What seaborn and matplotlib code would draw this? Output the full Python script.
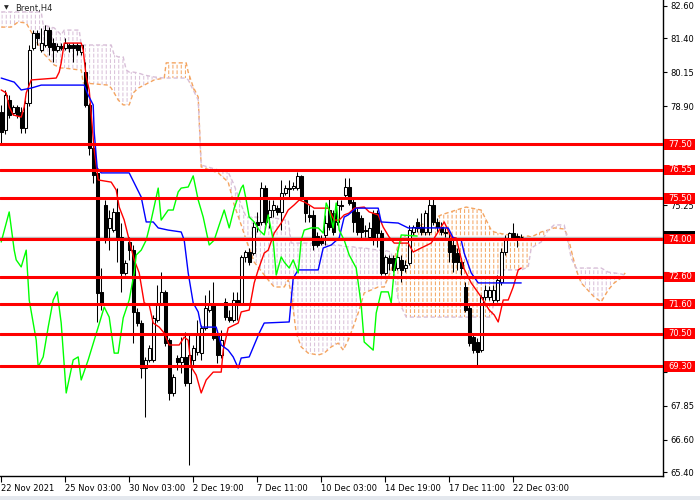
import numpy as np
import matplotlib
matplotlib.use("Agg")
import matplotlib.pyplot as plt
import matplotlib.transforms as mtransforms
from matplotlib.patches import Rectangle
import seaborn as sns

# Brent H4 candles (bar index = position)
opens = [78.69, 78.02, 79.13, 78.65, 78.87, 78.69, 78.10, 79.02, 81.05, 81.60,
         80.97, 81.16, 81.71, 81.23, 80.97, 81.12, 81.05, 81.16, 81.16, 81.16,
         80.90, 80.16, 78.95, 77.36, 76.44, 72.05, 75.26, 74.41, 74.33, 75.00,
         74.07, 72.75, 73.89, 73.59, 71.31, 70.90, 69.24, 69.54, 69.54, 71.01,
         71.64, 72.05, 70.27, 68.32, 69.61, 69.46, 69.65, 68.69, 69.54, 69.83,
         69.79, 70.72, 71.38, 71.57, 70.53, 69.72, 71.68, 71.12, 71.01, 71.75,
         71.64, 73.34, 73.52, 73.48, 74.63, 74.63, 75.88, 74.81, 75.07, 75.14,
         75.00, 75.70, 75.88, 75.88, 75.88, 76.33, 75.44, 74.89, 74.89, 74.11,
         74.04, 74.15, 75.07, 74.96, 74.63, 75.26, 75.62, 75.92, 75.37, 75.00,
         74.78, 74.33, 74.07, 74.96, 74.96, 74.22, 72.75, 73.30, 73.30, 72.93,
         73.23, 72.93, 73.12, 74.26, 74.63, 74.44, 74.26, 74.26, 75.26, 74.63,
         74.44, 74.26, 74.04, 73.78, 73.48, 73.15, 72.23, 71.45, 70.38, 70.20,
         69.90, 71.86, 71.86, 71.75, 71.75, 72.41, 73.52, 74.04, 74.22, 74.11,
         74.07]
highs = [78.95, 79.50, 79.31, 78.95, 78.95, 78.87, 79.13, 81.16, 81.71, 81.71,
         81.79, 81.90, 81.82, 81.42, 81.23, 81.23, 81.42, 81.23, 81.23, 81.23,
         81.23, 80.53, 79.02, 77.47, 76.55, 72.93, 75.44, 75.07, 75.14, 75.88,
         74.59, 73.23, 74.07, 73.78, 71.45, 71.01, 69.65, 70.09, 71.20, 72.30,
         72.78, 72.12, 70.35, 69.02, 69.72, 70.38, 70.57, 70.46, 70.09, 71.01,
         70.83, 71.93, 72.12, 72.41, 70.64, 70.64, 71.82, 71.38, 72.05, 72.05,
         73.41, 73.59, 73.67, 74.63, 75.00, 76.10, 75.99, 75.44, 75.44, 75.26,
         76.18, 75.99, 76.18, 76.10, 76.47, 76.36, 75.51, 75.26, 75.07, 74.26,
         74.15, 74.89, 75.55, 75.07, 75.44, 75.44, 76.25, 76.25, 75.51, 75.14,
         74.89, 74.52, 74.63, 75.07, 75.07, 74.33, 73.41, 73.41, 73.41, 73.59,
         73.41, 73.23, 74.52, 74.52, 74.78, 74.96, 75.07, 75.51, 75.51, 74.78,
         74.63, 74.41, 74.26, 73.96, 73.67, 73.30, 72.41, 71.57, 70.53, 70.35,
         71.93, 72.30, 72.27, 72.30, 72.67, 73.67, 74.15, 74.26, 74.59, 74.22,
         74.19]
lows = [77.54, 77.88, 78.47, 78.58, 78.47, 77.91, 77.91, 78.91, 80.97, 81.16,
        80.90, 81.09, 80.79, 80.53, 80.90, 80.97, 80.97, 80.90, 80.53, 80.79,
        80.79, 78.87, 77.10, 76.07, 70.94, 71.38, 73.85, 73.59, 74.26, 73.15,
        72.05, 72.67, 73.23, 70.16, 70.79, 68.87, 67.43, 69.46, 69.46, 70.94,
        71.57, 70.05, 68.06, 68.21, 69.17, 69.06, 68.58, 65.66, 69.35, 69.72,
        69.54, 70.64, 71.31, 70.27, 69.43, 69.61, 71.01, 70.94, 70.94, 71.01,
        71.57, 73.15, 73.04, 73.41, 74.26, 74.52, 74.52, 74.41, 74.81, 74.89,
        74.33, 75.62, 75.55, 75.81, 75.81, 75.44, 74.63, 74.63, 73.59, 73.71,
        73.78, 73.78, 74.33, 74.15, 74.52, 75.07, 75.55, 75.26, 74.26, 74.15,
        73.96, 74.07, 73.96, 73.78, 73.71, 72.67, 72.67, 72.86, 72.78, 72.86,
        72.41, 72.78, 73.04, 74.15, 74.26, 74.15, 74.15, 74.15, 74.52, 74.26,
        74.15, 74.07, 73.15, 72.78, 72.86, 72.67, 71.31, 70.05, 69.79, 69.35,
        69.83, 71.75, 71.75, 71.64, 71.68, 72.30, 73.41, 73.96, 73.96, 73.71,
        73.96]
closes = [77.95, 79.31, 78.58, 78.87, 78.58, 78.10, 79.02, 80.97, 81.60, 81.42,
          81.23, 81.71, 81.09, 80.97, 81.12, 81.05, 81.23, 81.05, 81.05, 80.97,
          81.16, 78.95, 77.36, 76.36, 72.01, 71.64, 74.07, 74.78, 75.00, 74.07,
          72.75, 73.12, 73.59, 71.31, 70.90, 69.24, 69.54, 69.98, 71.09, 71.64,
          72.05, 70.16, 68.32, 68.91, 69.46, 69.65, 68.69, 69.72, 69.98, 70.46,
          70.72, 71.45, 71.64, 70.35, 69.72, 70.27, 71.12, 71.01, 71.75, 71.64,
          73.34, 73.52, 73.15, 74.44, 74.52, 75.88, 74.63, 75.07, 75.26, 75.00,
          75.70, 75.88, 75.85, 75.96, 76.33, 75.55, 74.96, 74.81, 73.78, 73.78,
          73.85, 74.59, 74.44, 74.26, 75.26, 75.22, 75.92, 75.33, 74.63, 74.26,
          74.26, 74.30, 74.41, 73.96, 74.22, 72.75, 73.34, 73.12, 72.86, 73.34,
          72.86, 73.04, 74.33, 74.44, 74.41, 74.26, 74.96, 75.26, 74.63, 74.44,
          74.26, 74.22, 73.52, 73.15, 73.15, 72.93, 71.38, 70.16, 69.90, 69.83,
          71.86, 72.12, 72.12, 72.12, 72.49, 73.52, 74.04, 74.22, 74.04, 74.04,
          74.06]

# Ichimoku lines (bar index, price) at the visible turning points
tenkan_i = [0, 1.25, 2, 3, 5, 5.75, 6.25, 7.5, 13.75, 14.5, 15, 15.75, 20, 20.5,
            21.25, 22, 23.25, 24.25, 27.5, 28.75, 29.5, 30.75, 32, 33.25, 34.5,
            35.75, 37, 38, 39.5, 40.75, 42, 44.5, 45.75, 46.75, 47.5, 48.75, 50,
            51.25, 53, 55, 55.5, 56.75, 59.25, 60, 62, 63.25, 64.25, 65.75, 66.75,
            68.25, 70, 71.75, 73.25, 74.5, 75.75, 77, 78.25, 81.75, 83.25, 84.5,
            85.75, 87, 88.25, 90.75, 92, 94.25, 95.5, 97, 98.25, 101.75, 103, 105,
            107.5, 109.5, 110.75, 112.5, 113.75, 115.5, 117.5, 120, 122, 123.25,
            124.25, 125.5, 126.75, 128, 129.25, 130]
tenkan_p = [79.50, 79.39, 78.87, 78.58, 78.50, 78.87, 79.39, 79.87, 79.94, 80.16,
            80.50, 81.23, 81.23, 80.97, 79.98, 79.50, 77.28, 76.18, 76.10, 75.81,
            75.18, 74.70, 73.96, 73.23, 72.75, 71.64, 71.57, 70.90, 70.75, 70.53,
            70.09, 70.09, 70.38, 70.27, 69.28, 68.98, 68.32, 68.80, 69.09, 69.09,
            69.90, 70.72, 70.90, 71.31, 71.38, 72.38, 72.86, 73.48, 73.59, 74.22,
            74.59, 75.07, 75.26, 75.44, 75.37, 75.26, 75.14, 75.14, 74.70, 74.70,
            74.89, 74.96, 75.14, 75.18, 75.00, 74.89, 74.44, 74.07, 73.85, 73.85,
            73.52, 73.67, 73.85, 74.33, 74.63, 74.07, 74.04, 72.97, 72.38, 71.86,
            71.38, 71.20, 70.94, 71.75, 71.75, 72.23, 72.86, 72.93]

kijun_i = [0, 3.25, 5, 7.5, 10, 20.75, 21.75, 23, 23.25, 24, 25, 32, 33.25, 35,
           36.25, 38, 39.25, 41.75, 45, 45.75, 46.75, 48, 49.25, 50, 53.75, 55,
           56.75, 58, 59.25, 60, 62, 64.5, 65.75, 72, 73, 74.25, 79.25, 80.5,
           82.5, 84.5, 85.75, 86.75, 88.75, 94.25, 95, 99.25, 101.75, 111.75,
           113, 115, 115.75, 117.5, 119.25, 130]
kijun_p = [79.94, 79.79, 79.50, 79.57, 79.68, 79.68, 79.31, 78.95, 77.95, 76.62,
           76.44, 76.44, 76.07, 75.55, 74.63, 74.63, 74.41, 74.33, 74.26, 73.96,
           72.75, 71.64, 71.31, 70.75, 70.75, 70.09, 69.90, 69.65, 69.24, 69.61,
           69.65, 70.53, 70.90, 70.94, 72.56, 72.86, 72.86, 73.67, 73.78, 74.04,
           74.81, 74.89, 75.14, 75.14, 74.63, 74.59, 74.41, 74.41, 74.04, 73.96,
           73.48, 72.75, 72.38, 72.38]

chikou_i = [0, 2, 3.25, 3.75, 5, 6.25, 7, 8.75, 9.25, 10.5, 11.75, 13, 14, 15,
            16.25, 18, 19.25, 20, 21.75, 24.25, 25.75, 27, 28.25, 29.25, 30.5, 32,
            33.25, 33.75, 35, 36.25, 37.5, 39.25, 40, 41.75, 43, 44.25, 45, 46.75,
            48, 49.25, 50.5, 52, 53.25, 54.5, 55.75, 57, 58.25, 60, 60.5, 61.25,
            62, 63.25, 64.5, 65.75, 66.75, 68, 68.75, 70, 70.75, 72, 73, 74.25, 75,
            75.75, 77.5, 79.25, 80.5, 81.25, 82, 83, 83.75, 84.5, 85.75, 87, 88.75,
            90, 90.75, 93, 93.75, 95, 96.75, 97.5, 98.25, 100, 104]
chikou_p = [73.89, 75.00, 73.59, 73.23, 72.97, 73.59, 71.75, 70.27, 69.28, 69.65,
            70.75, 71.75, 72.05, 70.90, 68.32, 69.54, 69.65, 68.80, 69.54, 70.75,
            71.49, 71.12, 69.79, 69.79, 71.09, 71.75, 72.75, 73.41, 73.59, 73.96,
            74.70, 75.88, 74.70, 75.07, 75.07, 75.74, 75.88, 75.92, 76.33, 75.44,
            74.81, 73.78, 73.96, 74.52, 75.07, 74.41, 75.14, 75.88, 75.99, 75.44,
            74.81, 74.63, 74.33, 74.15, 74.89, 73.96, 72.67, 73.34, 73.15, 72.93,
            73.23, 72.75, 73.96, 74.33, 74.41, 74.41, 74.22, 75.33, 75.07, 74.41,
            75.33, 74.33, 73.96, 73.41, 72.93, 71.57, 70.20, 69.90, 71.27, 72.05,
            72.05, 71.64, 72.86, 74.15, 74.11]

cloud_i = [0, 2.5, 4.25, 6.25, 8.25, 10, 10.5, 13.25, 15, 15.75, 19.5, 20, 20.5,
           26.75, 27.5, 28.25, 29.25, 30.5, 31.25, 32, 33, 34.25, 35.75, 38.25,
           40.75, 41.25, 46.25, 46.75, 48, 49.25, 50, 54.25, 56.75, 58.25, 60,
           61.25, 63.25, 66.75, 68.25, 70.75, 71.75, 72.5, 73.75, 75, 76.75, 79.25,
           80.75, 82.5, 84.25, 85.5, 86.75, 88, 89.25, 90.75, 92.5, 94.25, 95.75,
           97.5, 99.25, 101.25, 105, 110, 113.75, 116.25, 120, 121.25, 122.5,
           123.25, 124.25, 130, 131.75, 132.5, 135, 136.75, 138.25, 140.75, 141.75,
           142.5, 143.75, 145, 148.25, 150, 151.75, 153.25, 155, 156]
span_a = [81.82, 81.82, 82.01, 81.97, 81.45, 80.97, 80.86, 80.42, 80.31, 80.31,
          80.24, 80.24, 79.76, 79.68, 79.57, 79.39, 79.13, 78.95, 78.95, 78.95,
          79.39, 79.57, 79.68, 79.87, 79.94, 80.50, 80.50, 80.16, 79.61, 79.24,
          76.66, 76.44, 76.10, 75.26, 74.52, 73.96, 73.15, 72.49, 72.23, 72.23,
          72.49, 72.01, 70.53, 70.02, 69.79, 69.72, 69.79, 70.02, 70.16, 69.90,
          70.27, 70.75, 71.27, 72.01, 72.12, 72.23, 72.23, 72.86, 73.78, 74.15,
          74.52, 74.89, 75.07, 75.18, 75.07, 74.70, 74.33, 74.26, 74.22, 74.07,
          74.11, 74.07, 74.26, 74.33, 74.41, 74.37, 74.07, 73.59, 72.86, 72.38,
          71.86, 71.68, 72.12, 72.38, 72.56, 72.75]
span_b = [82.38, 82.38, 82.38, 82.38, 82.38, 82.38, 81.90, 81.79, 81.53, 81.71,
          81.71, 81.16, 81.16, 81.16, 81.16, 80.79, 80.72, 80.72, 80.24, 80.16,
          80.16, 80.13, 80.05, 79.98, 79.94, 79.94, 79.94, 79.87, 79.50, 79.13,
          76.73, 76.55, 76.47, 75.99, 75.26, 74.81, 74.81, 74.81, 74.78, 74.70,
          74.70, 73.85, 73.85, 73.85, 73.85, 73.85, 73.82, 73.78, 73.78, 73.74,
          73.71, 73.71, 73.67, 73.67, 73.63, 73.59, 73.59, 73.52, 71.75, 71.12,
          71.12, 71.12, 71.12, 71.12, 71.12, 71.12, 71.12, 71.75, 72.86, 72.86,
          72.97, 73.67, 73.89, 74.33, 74.52, 74.52, 73.85, 73.30, 72.93, 72.93,
          72.93, 72.93, 72.78, 72.75, 72.71, 72.67]

levels = [77.50, 76.55, 75.50, 74.00, 72.60, 71.60, 70.50, 69.30]
bid_price = 74.06
ytick_vals = [82.60, 81.40, 80.15, 78.90, 77.70, 76.45, 75.25, 74.00, 72.80,
              71.55, 70.35, 69.10, 67.85, 66.60, 65.40]
xtick_pos = [0, 16, 32, 48, 64, 80, 96, 112, 128]
xtick_labels = ['22 Nov 2021', '25 Nov 03:00', '30 Nov 03:00', '2 Dec 19:00',
                '7 Dec 11:00', '10 Dec 03:00', '14 Dec 19:00', '17 Dec 11:00',
                '22 Dec 03:00']

sns.set_style("white")
plt.rcParams['font.family'] = ['DejaVu Sans']
plt.rcParams['hatch.linewidth'] = 0.72

fig = plt.figure(figsize=(7, 5), dpi=100)
ax = fig.add_axes([0, 24 / 500, 663 / 700, 476 / 500])

# cloud: dashed vertical hatch in sandybrown / thistle
ci = np.array(cloud_i)
sa = np.array(span_a)
sb = np.array(span_b)
c1 = ax.fill_between(ci, sa, sb, where=sa >= sb, interpolate=True, facecolor='none',
                     edgecolor='#F4A460', hatch='||||', linewidth=0, zorder=1)
c2 = ax.fill_between(ci, sa, sb, where=sa <= sb, interpolate=True, facecolor='none',
                     edgecolor='#D8BFD8', hatch='||||', linewidth=0, zorder=1)
with plt.rc_context({'hatch.linewidth': 1.3}):
    gaps = ax.fill_between(ci, sa, sb, facecolor='none', edgecolor='white',
                           hatch='---', linewidth=0, zorder=1.2)
for coll, hlw in ((c1, 0.72), (c2, 0.72), (gaps, 1.3)):
    if hasattr(coll, 'set_hatch_linewidth'):
        coll.set_hatch_linewidth(hlw)
ax.plot(ci, sa, color='#F4A460', lw=1, ls=(0, (3, 2)), zorder=1.5)
ax.plot(ci, sb, color='#D8BFD8', lw=1, ls=(0, (3, 2)), zorder=1.5)

# bid line
ax.axhline(bid_price + 0.03, color='#C0C0C0', lw=1, zorder=2)

# candles
x = np.arange(len(opens))
o = np.array(opens)
c = np.array(closes)
up = c >= o
bottoms = np.minimum(o, c)
heights = np.maximum(np.abs(c - o), 0.025)
ax.vlines(x, lows, highs, color='black', lw=0.75, zorder=3)
ax.bar(x[up], heights[up], bottom=bottoms[up], width=0.8, color='white',
       edgecolor='black', linewidth=0.75, zorder=3.1)
ax.bar(x[~up], heights[~up], bottom=bottoms[~up], width=0.8, color='black',
       edgecolor='black', linewidth=0.75, zorder=3.1)

# tenkan / kijun / chikou
sns.lineplot(x=tenkan_i, y=tenkan_p, ax=ax, color='#FF0000', lw=1,
             sort=False, estimator=None, zorder=4)
sns.lineplot(x=kijun_i, y=kijun_p, ax=ax, color='#0000FF', lw=1,
             sort=False, estimator=None, zorder=4)
sns.lineplot(x=chikou_i, y=chikou_p, ax=ax, color='#00FF00', lw=1,
             sort=False, estimator=None, zorder=4)

# horizontal levels
for p in levels:
    ax.axhline(p, color='#FF0000', lw=2.2, zorder=5)

ax.set_xlim(-0.3, 165.45)
ax.set_ylim(65.256, 82.82)
ax.set_xlabel('')
ax.set_ylabel('')

# scale labels hidden behind the level boxes are left blank
ax.yaxis.tick_right()
ax.set_yticks(ytick_vals)
ax.set_yticklabels(['' if min(abs(v - p) for p in levels) < 0.22 else f'{v:.2f}'
                    for v in ytick_vals])
ax.set_xticks(xtick_pos)
ax.set_xticklabels(xtick_labels)
for lbl in ax.get_xticklabels():
    lbl.set_ha('left')
ax.tick_params(axis='y', direction='out', length=3, width=0.8, pad=2,
               labelsize=6, colors='black', right=True, left=False)
ax.tick_params(axis='x', direction='out', length=4, width=0.8, pad=2,
               labelsize=6, colors='black', bottom=True)
for side in ('top', 'left'):
    ax.spines[side].set_visible(False)
for side in ('right', 'bottom'):
    ax.spines[side].set_color('black')
    ax.spines[side].set_linewidth(1)
ax.grid(False)

# price labels on the right scale
trans = mtransforms.blended_transform_factory(ax.transAxes, ax.transData)
bw = 31 / 663
ax.add_patch(Rectangle((1.0015, bid_price - 0.21), bw, 0.45, transform=trans,
                       fc='black', ec='none', clip_on=False, zorder=6))
for p in levels:
    ax.add_patch(Rectangle((1.0015, p - 0.2), bw, 0.4, transform=trans,
                           fc='#FF0000', ec='none', clip_on=False, zorder=6))
    ax.text(1.0015 + 4 / 663, p, f'{p:.2f}', transform=trans, color='white',
            fontsize=6, ha='left', va='center', clip_on=False, zorder=7)

fig.text(4 / 700, 1 - 8 / 500, '\u25bc', fontsize=4.5, va='center', ha='left')
fig.text(15 / 700, 1 - 8 / 500, 'Brent,H4', fontsize=6, va='center', ha='left')
fig.patches.append(Rectangle((0, 0), 1, 4 / 500, transform=fig.transFigure,
                             fc='#E4E8EE', ec='none'))

fig.savefig('out.png', dpi=100)
